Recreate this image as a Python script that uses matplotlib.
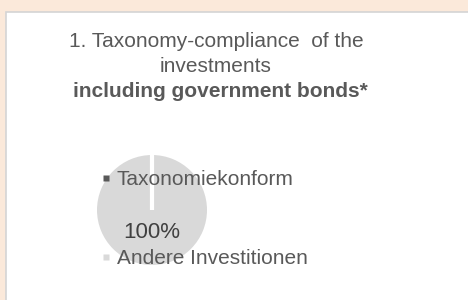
import matplotlib
matplotlib.use("Agg")
import matplotlib.pyplot as plt
from matplotlib.patches import Rectangle
from matplotlib.lines import Line2D

plt.rcParams['font.family'] = ['Liberation Sans', 'DejaVu Sans']

# ---- data ----
categories = ["Taxonomiekonform", "Andere Investitionen"]
values = [0, 100]
colors = ["#595959", "#D9D9D9"]
title_lines = ["1. Taxonomy-compliance  of the", "investments"]
title_bold = "including government bonds*"

W, H = 468, 300
fig = plt.figure(figsize=(W / 100, H / 100), dpi=100)
fig.patch.set_facecolor("#FBE9DA")

# white panel with grey border
panel = Rectangle((6 / W, -0.2), 1.2, 1.2 - 12 / H, transform=fig.transFigure,
                  facecolor="white", edgecolor="#D4D4D4", linewidth=1.2, zorder=-5)
fig.patches.append(panel)

# title
fig.text(216 / W, 1 - 47 / H, title_lines[0], ha="center", va="baseline",
         fontsize=15, color="#595959")
fig.text(216 / W, 1 - 72 / H, title_lines[1], ha="center", va="baseline",
         fontsize=15, color="#595959")
fig.text(220 / W, 1 - 97 / H, title_bold, ha="center", va="baseline",
         fontsize=15, color="#595959", fontweight="bold")

# pie
cx, cy, r = 152, 210, 55
ax = fig.add_axes([(cx - r) / W, (H - cy - r) / H, 2 * r / W, 2 * r / H])
ax.set_facecolor("none")
wedges, texts, autotexts = ax.pie(
    values, colors=colors, startangle=90, counterclock=False,
    autopct=lambda p: f"{p:.0f}%" if p > 0 else "", pctdistance=0.4,
    wedgeprops=dict(edgecolor="white", linewidth=3),
    textprops=dict(fontsize=16, color="#404040"))
for w, v in zip(wedges, values):
    if v > 0:
        w.set_edgecolor("none")
    else:
        w.set_zorder(3)
ax.set_xlim(-1, 1)
ax.set_ylim(-1, 1)
ax.axis("off")

# legend
handles = [Line2D([], [], linestyle="none", marker="s", markersize=4.5,
                  markerfacecolor=c, markeredgecolor="none") for c in colors]
leg = fig.legend(handles, categories, loc="upper left",
                 bbox_to_anchor=(103 / W, 1 - 170 / H), bbox_transform=fig.transFigure,
                 frameon=False, fontsize=15, labelcolor="#595959",
                 handlelength=0.3, handletextpad=0.35,
                 labelspacing=2.9, borderpad=0, borderaxespad=0)
leg.set_zorder(10)

fig.savefig("out.png", dpi=100, facecolor=fig.get_facecolor())
